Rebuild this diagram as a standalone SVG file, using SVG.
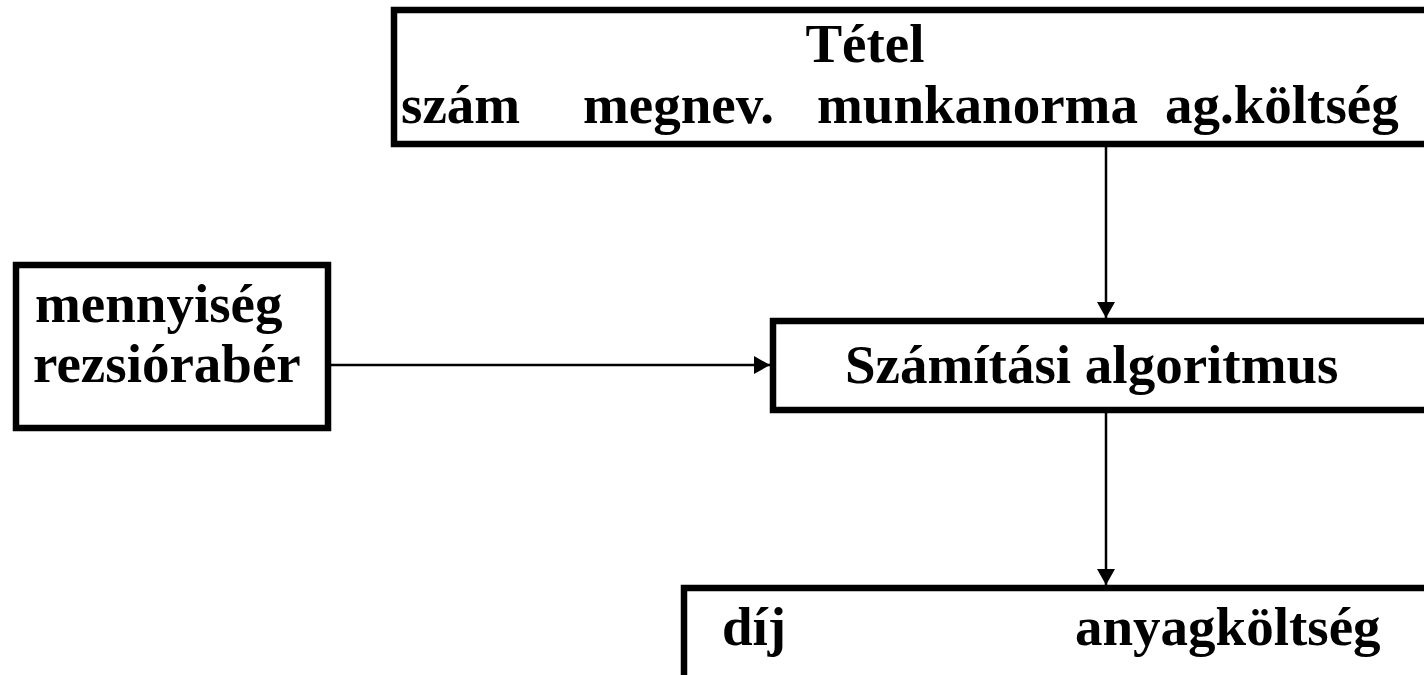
<svg xmlns="http://www.w3.org/2000/svg" width="1424" height="675" viewBox="0 0 1424 675">
<style>
.box{fill:#fff;stroke:#000;stroke-width:6.5}
.t{font-family:"Liberation Serif","Times New Roman",serif;font-weight:bold;font-size:55px;fill:#000}
.c{stroke:#000;stroke-width:2.5;fill:none}
</style>
<defs>
<marker id="arr" viewBox="0 0 16 18" refX="16" refY="9" markerWidth="16" markerHeight="18" markerUnits="userSpaceOnUse" orient="auto">
<path d="M0,0 L16,9 L0,18 Z" fill="#000"/>
</marker>
</defs>
<rect width="1424" height="675" fill="#fff"/>
<g id="connectors">
<line class="c" x1="1106" y1="147" x2="1106" y2="318" marker-end="url(#arr)"/>
<line class="c" x1="331" y1="365" x2="770" y2="365" marker-end="url(#arr)"/>
<line class="c" x1="1106" y1="413" x2="1106" y2="585" marker-end="url(#arr)"/>
</g>
<g id="tetel">
<rect class="box" x="394" y="10" width="1060" height="134"/>
<text class="t" x="865" y="62" text-anchor="middle">Tétel</text>
<text class="t" x="401" y="123">szám</text>
<text class="t" x="583" y="123">megnev.</text>
<text class="t" x="817" y="123">munkanorma</text>
<text class="t" x="1165" y="123">ag.költség</text>
</g>
<g id="input">
<rect class="box" x="16" y="265" width="312" height="163"/>
<text class="t" x="35" y="322">mennyiség</text>
<text class="t" x="33" y="382">rezsiórabér</text>
</g>
<g id="algoritmus">
<rect class="box" x="773" y="321" width="680" height="89"/>
<text class="t" x="845" y="383">Számítási algoritmus</text>
</g>
<g id="output">
<rect class="box" x="684" y="588" width="770" height="120"/>
<text class="t" x="722" y="645">díj</text>
<text class="t" x="1075" y="645">anyagköltség</text>
</g>
</svg>
